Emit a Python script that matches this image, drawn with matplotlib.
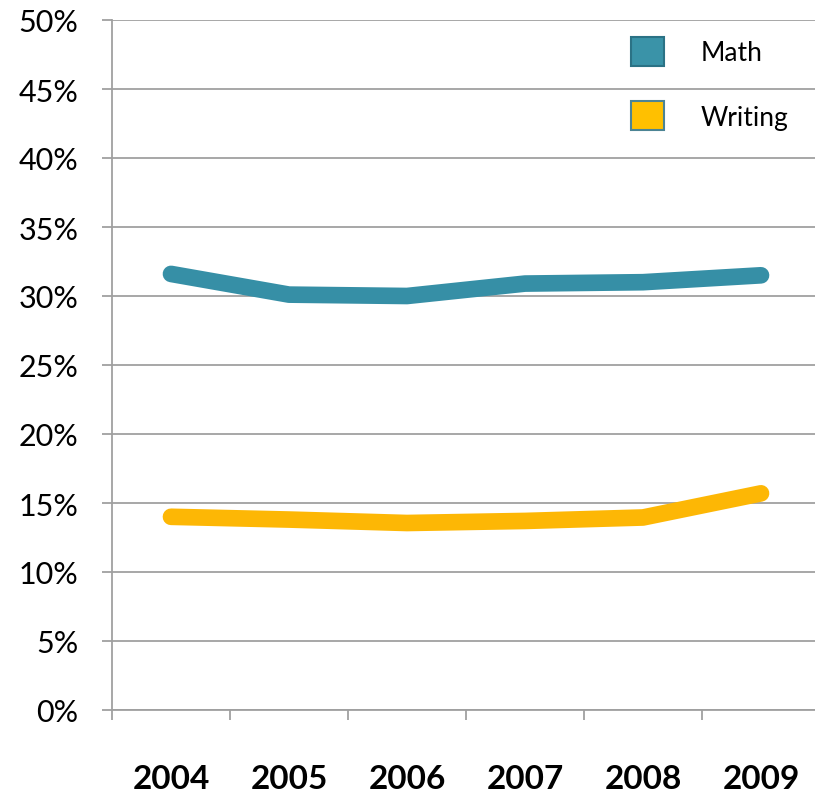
import matplotlib
matplotlib.use("Agg")
import matplotlib.pyplot as plt
from matplotlib.patches import Patch
import numpy as np

years = ["2004", "2005", "2006", "2007", "2008", "2009"]
math_vals = [31.6, 30.1, 30.0, 30.9, 31.0, 31.5]
writing_vals = [14.0, 13.8, 13.55, 13.7, 13.95, 15.7]
yticks = [0, 5, 10, 15, 20, 25, 30, 35, 40, 45, 50]

math_color = "#368FA6"
writing_color = "#FDB705"
grid_color = "#A0A0A0"

plt.rcParams['font.family'] = ['Lato', 'DejaVu Sans']

W, H = 815, 803
fig = plt.figure(figsize=(W / 100, H / 100), dpi=100)
left, right, top, bottom = 112, 820, 21, 711
ax = fig.add_axes([left / W, 1 - bottom / H, (right - left) / W, (bottom - top) / H])

x = np.arange(len(years))
ax.plot(x, math_vals, color=math_color, lw=12, solid_capstyle='round', solid_joinstyle='round', zorder=3)
ax.plot(x, writing_vals, color=writing_color, lw=12, solid_capstyle='round', solid_joinstyle='round', zorder=3)

ax.set_xlim(-0.5, len(years) - 0.5)
ax.set_ylim(0, 50)
ax.set_yticks(yticks)
ax.set_yticklabels([f"{v}%" for v in yticks], fontsize=22)
ax.yaxis.grid(True, color=grid_color, lw=1.3)
ax.set_axisbelow(True)

ax.set_xticks(x)
ax.set_xticklabels(years, fontsize=24, fontweight='bold')
ax.set_xticks(np.arange(-0.5, len(years)), minor=True)
ax.tick_params(axis='x', which='major', length=0, pad=39)
ax.tick_params(axis='x', which='minor', length=7, color=grid_color, width=1.3)
ax.tick_params(axis='y', length=7, color=grid_color, width=1.3, pad=17)

for s in ['top', 'right']:
    ax.spines[s].set_visible(False)
for s in ['left', 'bottom']:
    ax.spines[s].set_color(grid_color)
    ax.spines[s].set_linewidth(1.3)

handles = [Patch(facecolor="#3A93A8", edgecolor="#2B7285", lw=1.5, label="Math"),
           Patch(facecolor="#FFC000", edgecolor="#4C8494", lw=1.5, label="Writing")]
fig.legend(handles=handles, loc='upper left', bbox_to_anchor=(631 / W, 1 - 38 / H),
           frameon=False, fontsize=19, handlelength=1.25, handleheight=1.3,
           labelspacing=1.35, handletextpad=1.4, borderpad=0, borderaxespad=0)

fig.savefig("out.png", dpi=100)
